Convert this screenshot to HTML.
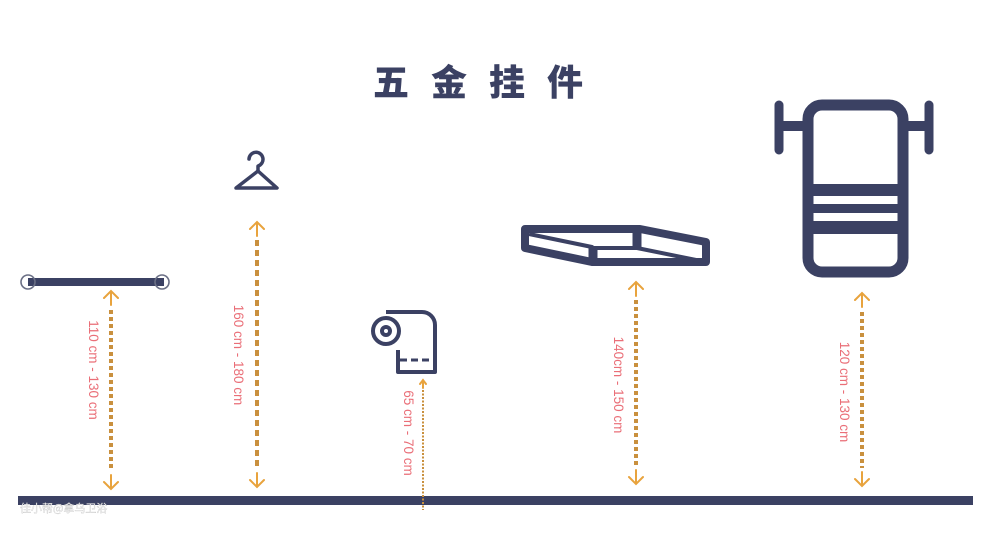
<!DOCTYPE html>
<html><head><meta charset="utf-8"><style>
html,body{margin:0;padding:0;background:#fff;}
body{width:988px;height:528px;overflow:hidden;position:relative;}
</style></head><body>
<svg width="988" height="528" viewBox="0 0 988 528" xmlns="http://www.w3.org/2000/svg">
<rect width="988" height="528" fill="#fff"/>
<text x="489" y="95" text-anchor="middle" font-family="Noto Sans CJK SC, sans-serif" font-weight="900" font-size="36" fill="#3b4163" letter-spacing="22">五金挂件</text>
<!-- floor -->
<rect x="18" y="496" width="955" height="9" fill="#3b4163"/>
<text x="20" y="512" font-family="Noto Sans CJK SC, sans-serif" font-size="11" fill="#fff" stroke="#bbb" stroke-width="0.3">佳小帮@拿乌卫浴</text>
<!-- bar -->
<rect x="28" y="278" width="136" height="8" fill="#3b4163"/>
<circle cx="28" cy="282" r="7" fill="none" stroke="#6a6f85" stroke-width="1.6"/>
<circle cx="162" cy="282" r="7" fill="none" stroke="#6a6f85" stroke-width="1.6"/>
<!-- hanger -->
<g fill="none" stroke="#3b4163" stroke-width="3.5" stroke-linecap="round" stroke-linejoin="round">
<path d="M249 159 a7 7 0 1 1 9 7 v5"/>
<path d="M258 171 L277 188 H236 Z"/>
</g>
<!-- toilet paper -->
<g fill="none" stroke="#3b4163" stroke-width="4" stroke-linejoin="round">
<path d="M386 312 H422 a13 13 0 0 1 13 13 V372 H398 V350"/>
<circle cx="386" cy="331" r="13"/>
<circle cx="386" cy="331" r="4"/>
<path d="M400 360 H435" stroke-dasharray="7 4" stroke-width="3"/>
</g>
<!-- shelf -->
<g fill="none" stroke="#3b4163" stroke-width="8" stroke-linejoin="round">
<path d="M525 229 H640 L706 242 V262 H592 L525 248 Z"/>
<path d="M529 234 L592 247 V262" stroke-width="4"/>
<path d="M637 229 V248 L706 262" stroke-width="4"/>
<path d="M594 248 H637" stroke-width="4"/>
<path d="M593 246 V262" stroke-width="9"/>
<path d="M637 229 V248" stroke-width="9"/>
</g>
<!-- towel rack -->
<g fill="none" stroke="#3b4163" stroke-linecap="round">
<rect x="808" y="105" width="95" height="167" rx="14" stroke-width="11"/>
<path d="M779 105 V150 M929 105 V150" stroke-width="9"/>
<path d="M782 126 H806 M904 126 H926" stroke-width="10"/>
</g>
<rect x="808" y="184" width="95" height="12" fill="#3b4163"/>
<rect x="808" y="204" width="95" height="9" fill="#3b4163"/>
<rect x="808" y="221" width="95" height="13" fill="#3b4163"/>
<!-- arrows -->
<g stroke="#e8a33d" stroke-width="2" fill="none" stroke-linecap="round">
<path d="M104 298 L111 291 L118 298 M111 291 V305 M104 482 L111 489 L118 482 M111 489 V475"/>
<path d="M250 229 L257 222 L264 229 M257 222 V236 M250 480 L257 487 L264 480 M257 487 V473"/>
<path d="M420 384 L423 380 L426 384 M423 380 V388"/>
<path d="M629 289 L636 282 L643 289 M636 282 V296 M629 477 L636 484 L643 477 M636 484 V470"/>
<path d="M855 300 L862 293 L869 300 M862 293 V307 M855 479 L862 486 L869 479 M862 486 V472"/>
</g>
<g stroke="#c9903e" fill="none">
<path d="M111 310 V470" stroke-width="4" stroke-dasharray="4 3"/>
<path d="M257 240 V468" stroke-width="4" stroke-dasharray="6 4"/>
<path d="M423 390 V510" stroke-width="2" stroke-dasharray="2 1.5"/>
<path d="M636 300 V466" stroke-width="4" stroke-dasharray="4 3"/>
<path d="M862 312 V468" stroke-width="4" stroke-dasharray="4 3"/>
</g>
<g font-family="Liberation Sans, sans-serif" font-size="13.5" fill="#ea6f78" text-anchor="middle">
<text transform="translate(89,370) rotate(90)">110 cm - 130 cm</text>
<text transform="translate(234,355) rotate(90)">160 cm - 180 cm</text>
<text transform="translate(404,433) rotate(90)">65 cm - 70 cm</text>
<text transform="translate(614,385) rotate(90)">140cm - 150 cm</text>
<text transform="translate(840,392) rotate(90)">120 cm - 130 cm</text>
</g>
</svg>
</body></html>
